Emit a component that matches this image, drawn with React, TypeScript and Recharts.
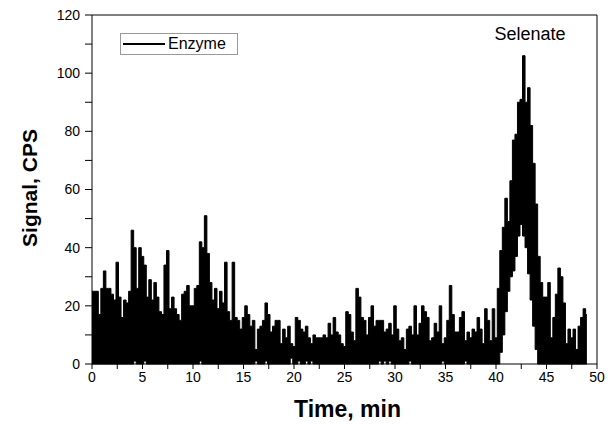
import { AreaChart, Area, XAxis, YAxis, ReferenceLine, Label } from "recharts";

// sample spacing of the envelope readings, minutes
const STEP = 0.25;

// upper envelope of the signal, one value per STEP starting at t = 0
const PEAKS = [
  25, 25, 25, 17, 26, 32, 26, 26, 24, 22, 35, 23, 16, 22, 21, 25,
  46, 40, 26, 40, 37, 34, 23, 29, 22, 28, 23, 18, 17, 34, 39, 19,
  23, 19, 17, 15, 24, 25, 27, 20, 20, 26, 27, 42, 40, 51, 38, 28,
  22, 26, 19, 25, 21, 35, 18, 15, 35, 16, 15, 12, 16, 20, 17, 13,
  15, 5, 12, 13, 15, 21, 17, 11, 13, 15, 15, 7, 12, 9, 13, 7,
  6, 16, 15, 12, 11, 13, 9, 7, 10, 9, 9, 9, 10, 9, 14, 10,
  16, 11, 10, 7, 6, 18, 17, 11, 8, 26, 23, 16, 15, 10, 16, 20,
  13, 15, 15, 15, 11, 12, 14, 10, 20, 12, 8, 9, 5, 12, 13, 10,
  20, 10, 14, 20, 18, 16, 8, 9, 14, 11, 20, 7, 9, 15, 27, 17,
  11, 11, 16, 18, 8, 11, 9, 12, 11, 16, 12, 7, 19, 15, 8, 19,
  9, 26, 39, 47, 57, 49, 63, 77, 79, 90, 91, 106, 90, 95, 82, 69,
  55, 37, 28, 23, 23, 28, 9, 16, 24, 33, 30, 21, 7, 12, 9, 12,
  5, 13, 16, 19, 17,
];

// lower envelope of the signal, same time grid
const TROUGHS = [
  0, 0, 0, 0, 0, 0, 0, 0, 0, 0, 0, 0, 0, 0, 0, 0,
  0, 1, 0, 0, 0, 1, 0, 0, 0, 0, 0, 0, 0, 0, 0, 0,
  0, 0, 0, 0, 0, 0, 0, 0, 0, 0, 0, 1, 0, 0, 0, 0,
  0, 0, 0, 0, 0, 0, 0, 0, 0, 0, 0, 0, 0, 0, 0, 0,
  0, 1, 0, 0, 0, 1, 0, 0, 0, 0, 0, 0, 0, 0, 0, 2,
  0, 0, 1, 0, 0, 1, 0, 1, 0, 0, 0, 0, 0, 0, 0, 0,
  0, 0, 0, 0, 0, 0, 0, 0, 0, 0, 0, 0, 0, 0, 0, 0,
  0, 0, 1, 0, 1, 0, 1, 0, 0, 0, 0, 0, 0, 0, 1, 0,
  0, 0, 0, 0, 0, 0, 0, 0, 0, 0, 0, 1, 0, 0, 0, 0,
  0, 0, 0, 0, 1, 0, 0, 0, 0, 0, 0, 0, 0, 0, 0, 0,
  0, 0, 4, 10, 18, 25, 30, 32, 37, 44, 48, 44, 40, 31, 22, 13,
  5, 0, 0, 0, 0, 0, 0, 0, 0, 0, 0, 0, 0, 0, 0, 0,
  0, 0, 0, 0, 0,
];

const X_TICKS = [0, 2.5, 5, 7.5, 10, 12.5, 15, 17.5, 20, 22.5, 25, 27.5, 30, 32.5, 35, 37.5, 40, 42.5, 45, 47.5, 50];
const Y_TICKS = [0, 10, 20, 30, 40, 50, 60, 70, 80, 90, 100, 110, 120];

const data = PEAKS.map((p, i) => ({ t: i * STEP, range: [TROUGHS[i], p] }));

const FONT = "'Liberation Sans', Arial, sans-serif";
const tickStyle = { fill: "#000", fontSize: 14, fontFamily: FONT };

export default function App() {
  return (
    <div style={{ position: "absolute", left: 0, top: 0, width: 610, height: 425, background: "#fff" }}>
      <AreaChart
        width={610}
        height={425}
        data={data}
        margin={{ top: 15, right: 13, bottom: 0, left: 0 }}
      >
        <XAxis
          dataKey="t"
          type="number"
          domain={[0, 50]}
          ticks={X_TICKS}
          interval={0}
          height={61}
          tickSize={5}
          tickMargin={3}
          stroke="#000"
          tick={tickStyle}
          tickFormatter={(v: number) => (v % 5 === 0 ? String(v) : "")}
        >
          <Label
            value="Time, min"
            position="insideBottom"
            offset={8}
            dx={3}
            style={{ fill: "#000", fontSize: 23, fontWeight: 700, fontFamily: FONT }}
          />
        </XAxis>
        <YAxis
          type="number"
          domain={[0, 120]}
          ticks={Y_TICKS}
          interval={0}
          width={92}
          tickSize={7}
          tickMargin={5}
          stroke="#000"
          tick={tickStyle}
          tickFormatter={(v: number) => (v % 20 === 0 ? String(v) : "")}
        >
          <Label
            content={() => (
              <text
                x={37}
                y={188}
                transform="rotate(-90 37 188)"
                textAnchor="middle"
                style={{ fill: "#000", fontSize: 21, fontWeight: 700, fontFamily: FONT }}
              >
                Signal, CPS
              </text>
            )}
          />
        </YAxis>
        <ReferenceLine y={120} stroke="#000" />
        <ReferenceLine x={50} stroke="#000" />
        <Area
          type="step"
          dataKey="range"
          stroke="#000"
          strokeWidth={1}
          fill="#000"
          fillOpacity={1}
          dot={false}
          activeDot={false}
          isAnimationActive={false}
        />
      </AreaChart>
      <div
        style={{
          position: "absolute",
          left: 120,
          top: 33,
          width: 118,
          height: 22,
          border: "1px solid #999",
          display: "flex",
          alignItems: "center",
          fontFamily: FONT,
          fontSize: 16,
          boxSizing: "border-box",
        }}
      >
        <div style={{ width: 42, height: 2, background: "#000", marginLeft: 2, marginRight: 3 }} />
        <span>Enzyme</span>
      </div>
      <div
        style={{
          position: "absolute",
          left: 470,
          top: 24,
          width: 120,
          textAlign: "center",
          fontFamily: FONT,
          fontSize: 18,
        }}
      >
        Selenate
      </div>
    </div>
  );
}
